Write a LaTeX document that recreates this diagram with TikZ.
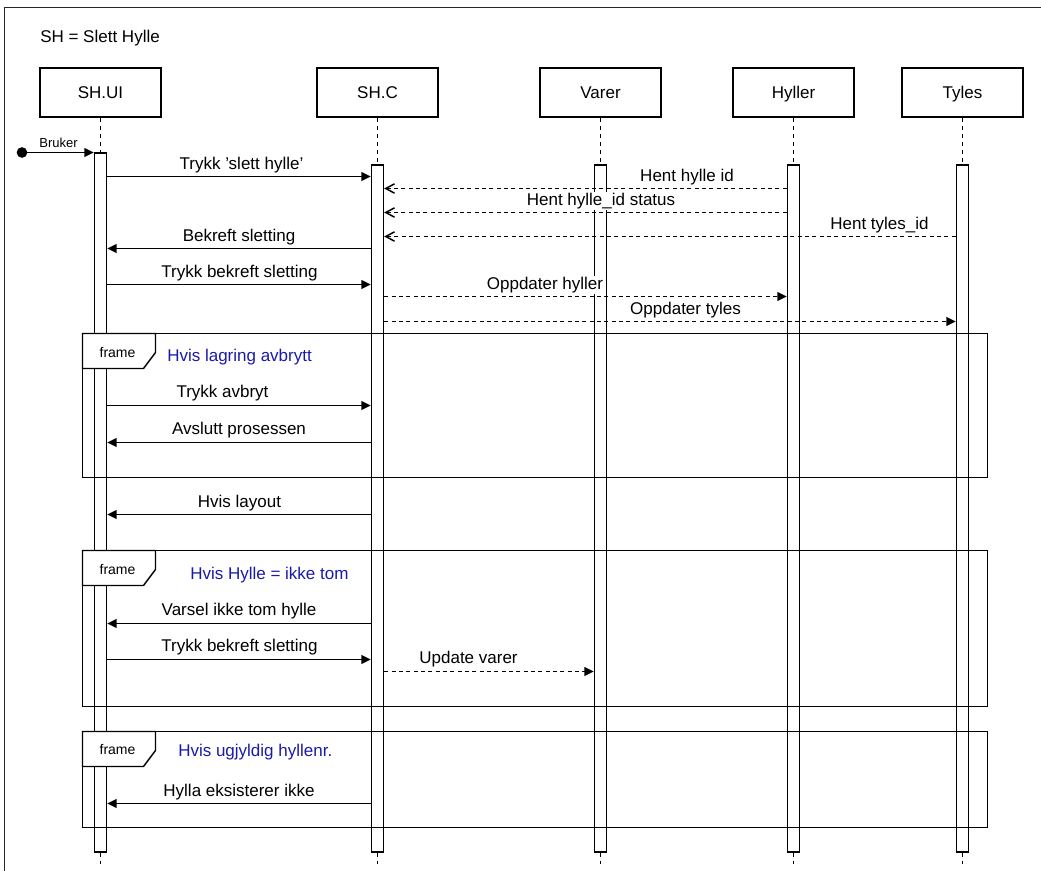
\documentclass[tikz,border=0pt]{standalone}
\usepackage{fontspec}
\setmainfont{Liberation Sans}
\usetikzlibrary{arrows.meta}
\definecolor{condblue}{RGB}{26,26,170}
\begin{document}
\begin{tikzpicture}[x=0.75pt,y=-0.75pt,
  base/.style={line width=1.1pt, draw=black},
  txt/.style={font=\fontsize{12.75pt}{15pt}\selectfont},
  head/.style={base, txt, rectangle, minimum width=90.75pt, minimum height=36.75pt,
    inner sep=0pt, text height=9.75pt, text depth=0pt},
  bar/.style={base, fill=white, rectangle, minimum width=9pt, inner sep=0pt},
  lifeline/.style={line width=1.1pt, dash pattern=on 3pt off 3pt},
  call/.style={base, -{Triangle[length=7pt,width=6.5pt]}},
  signal/.style={call, dash pattern=on 3pt off 2.5pt},
  reply/.style={base, dash pattern=on 3pt off 2.5pt, -{Straight Barb[length=6.5pt,width=7pt]}},
  lbl/.style={txt, anchor=base, fill=white, inner sep=1pt},
  frm/.style={line width=1.1pt},
  tag/.style={line width=1.1pt, fill=white},
  tagtxt/.style={font=\fontsize{10.5pt}{12pt}\selectfont, inner sep=0pt},
  cond/.style={txt, text=condblue, anchor=west, inner sep=0pt},
]
\useasboundingbox (0,0) rectangle (1041,870);

% outer border (top and left edges)
\draw[line width=1.1pt, draw=black!85] (4.5,872) -- (4.5,7.5) -- (1045,7.5);

\node[txt, anchor=west, inner sep=0pt] (title) at (40,38) {SH = Slett Hylle};

% participants
\node[head] (ui)  at (100.5,92.5) {SH.UI};
\node[head] (ctl) at (377.5,92.5) {SH.C};
\node[head] (var) at (600.5,92.5) {Varer};
\node[head] (hyl) at (793.5,92.5) {Hyller};
\node[head] (tyl) at (962.5,92.5) {Tyles};

% activation bars
\node[bar, minimum height=524.25pt] (uibar) at (100.5,502.5) {};
\node[bar, minimum height=515.25pt] (cbar)  at (377.5,508.5) {};
\node[bar, minimum height=515.25pt] (vbar)  at (600.5,508.5) {};
\node[bar, minimum height=515.25pt] (hbar)  at (793.5,508.5) {};
\node[bar, minimum height=515.25pt] (tbar)  at (962.5,508.5) {};

% lifelines
\foreach \h/\b in {ui/uibar, ctl/cbar, var/vbar, hyl/hbar, tyl/tbar}{
  \draw[lifeline] (\h.south -| \b.center) -- (\b.north);
  \draw[lifeline] (\b.south) -- ++(0,11);
}

% combined fragments
\draw[frm] (82.5,333.5) rectangle (987.5,477.5);
\draw[tag] (82.5,333.5) -- (155.5,333.5) -- (155.5,352.5) -- (143.5,368.5) -- (82.5,368.5) -- cycle;
\node[tagtxt] (f1) at (117.5,352) {frame};
\node[cond] (c1) at (167,357.5) {Hvis lagring avbrytt};

\draw[frm] (82.5,550.5) rectangle (987.5,706.5);
\draw[tag] (82.5,550.5) -- (155.5,550.5) -- (155.5,569.5) -- (143.5,585.5) -- (82.5,585.5) -- cycle;
\node[tagtxt] (f2) at (117.5,569) {frame};
\node[cond] (c2) at (190,575.5) {Hvis Hylle = ikke tom};

\draw[frm] (82.5,731.5) rectangle (987.5,827.5);
\draw[tag] (82.5,731.5) -- (155.5,731.5) -- (155.5,750.5) -- (143.5,766.5) -- (82.5,766.5) -- cycle;
\node[tagtxt] (f3) at (117.5,749.5) {frame};
\node[cond] (c3) at (178,752) {Hvis ugjyldig hyllenr.};

% found message
\node[circle, fill=black, minimum size=8pt, inner sep=0pt] (start) at (22,152.5) {};
\draw[call] (start.center) -- (uibar.west |- start);
\node[font=\fontsize{9.75pt}{11pt}\selectfont, anchor=base, inner sep=0pt] (bruker) at (58.5,147) {Bruker};

% messages
\draw[call]   (uibar.east |- 0,176.5) -- (cbar.west |- 0,176.5);
\draw[reply]  (hbar.west |- 0,188.5) -- (cbar.east |- 0,188.5);
\draw[reply]  (hbar.west |- 0,212.5) -- (cbar.east |- 0,212.5);
\draw[reply]  (tbar.west |- 0,236.5) -- (cbar.east |- 0,236.5);
\draw[call]   (cbar.west |- 0,248.5) -- (uibar.east |- 0,248.5);
\draw[call]   (uibar.east |- 0,284.5) -- (cbar.west |- 0,284.5);
\draw[signal] (cbar.east |- 0,296.5) -- (hbar.west |- 0,296.5);
\draw[signal] (cbar.east |- 0,321.5) -- (tbar.west |- 0,321.5);
\draw[call]   (uibar.east |- 0,405.5) -- (cbar.west |- 0,405.5);
\draw[call]   (cbar.west |- 0,442.5) -- (uibar.east |- 0,442.5);
\draw[call]   (cbar.west |- 0,514.5) -- (uibar.east |- 0,514.5);
\draw[call]   (cbar.west |- 0,623.5) -- (uibar.east |- 0,623.5);
\draw[call]   (uibar.east |- 0,659.5) -- (cbar.west |- 0,659.5);
\draw[signal] (cbar.east |- 0,671.5) -- (vbar.west |- 0,671.5);
\draw[call]   (cbar.west |- 0,803.5) -- (uibar.east |- 0,803.5);

% message labels
\node[lbl] (m1)  at (241.5,169.5) {Trykk 'slett hylle'};
\node[lbl] (m2)  at (687,181.5) {Hent hylle id};
\node[lbl] (m3)  at (601,205.5) {Hent hylle\_id status};
\node[lbl] (m4)  at (879.5,229.5) {Hent tyles\_id};
\node[lbl] (m5)  at (239,241.5) {Bekreft sletting};
\node[lbl] (m6)  at (239.5,277.5) {Trykk bekreft sletting};
\node[lbl] (m7)  at (545,289.5) {Oppdater hyller};
\node[lbl] (m8)  at (685.5,314) {Oppdater tyles};
\node[lbl] (m9)  at (222.5,397.5) {Trykk avbryt};
\node[lbl] (m10) at (239,434.5) {Avslutt prosessen};
\node[lbl] (m11) at (239.5,507.5) {Hvis layout};
\node[lbl] (m12) at (239,615.5) {Varsel ikke tom hylle};
\node[lbl] (m13) at (239.5,651.5) {Trykk bekreft sletting};
\node[lbl] (m14) at (468.5,663.5) {Update varer};
\node[lbl] (m15) at (239,796.5) {Hylla eksisterer ikke};
\end{tikzpicture}
\end{document}
